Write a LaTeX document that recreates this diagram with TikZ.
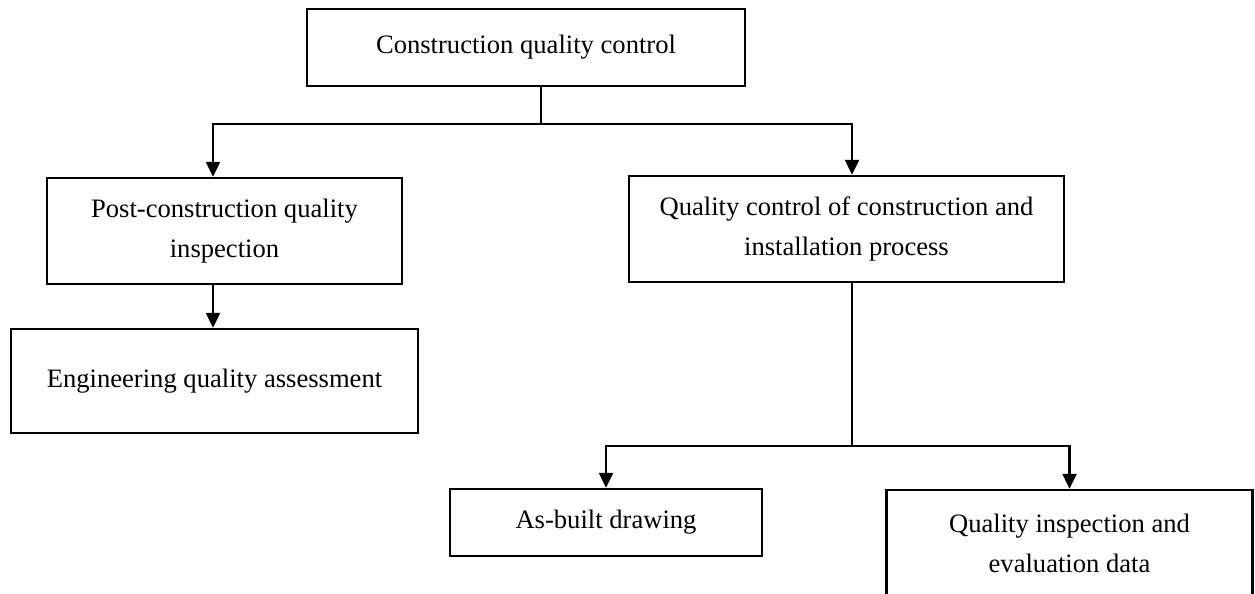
\documentclass[tikz,border=0pt]{standalone}
\usepackage{fontspec}
\setmainfont{Liberation Serif}
\usetikzlibrary{calc,arrows.meta}

\tikzset{
  box/.style={draw, line width=2.5pt, inner sep=0pt, align=center,
    font=\fontsize{26.6}{40}\selectfont},
  arr/.style={line width=2.5pt, -{Triangle[length=15pt,width=14pt]}},
  link/.style={line width=2.5pt}
}

\begin{document}
\begin{tikzpicture}[x=1pt,y=-1pt]
    \useasboundingbox (0,0) rectangle (1255,594);
    % boxes
    \node[box, minimum width=438, minimum height=77] (top) at (526,47.5) {Construction quality control};
    \node[box, minimum width=355, minimum height=106] (post) at (224.5,231) {Post-construction quality\\inspection};
    \node[box, minimum width=435, minimum height=106] (proc) at (846.5,229) {Quality control of construction and\\installation process};
    \node[box, minimum width=407, minimum height=104] (eng) at (214.5,381) {Engineering quality assessment};
    \node[box, minimum width=312, minimum height=67] (asb) at (606,522.5) {As-built drawing};
    \node[box, minimum width=366, minimum height=107] (qie) at (1069.5,543.5) {Quality inspection and\\evaluation data};
    % branches
    \coordinate (split) at (541,124);
    \coordinate (lft) at (213,124);
    \coordinate (rgt) at (852,124);
    \coordinate (fork) at (852,446);
    \draw[link] (top.south -| split) -- (split);
    \draw[arr] (split) -- (lft) -- (lft |- post.north);
    \draw[arr] (split) -- (rgt) -- (rgt |- proc.north);
    \draw[arr] (post.south -| lft) -- (eng.north -| lft);
    \draw[link] (proc.south -| rgt) -- (fork);
    \draw[arr] (fork) -| (asb.north);
    \draw[arr] (fork) -| (qie.north);
\end{tikzpicture}
\end{document}
